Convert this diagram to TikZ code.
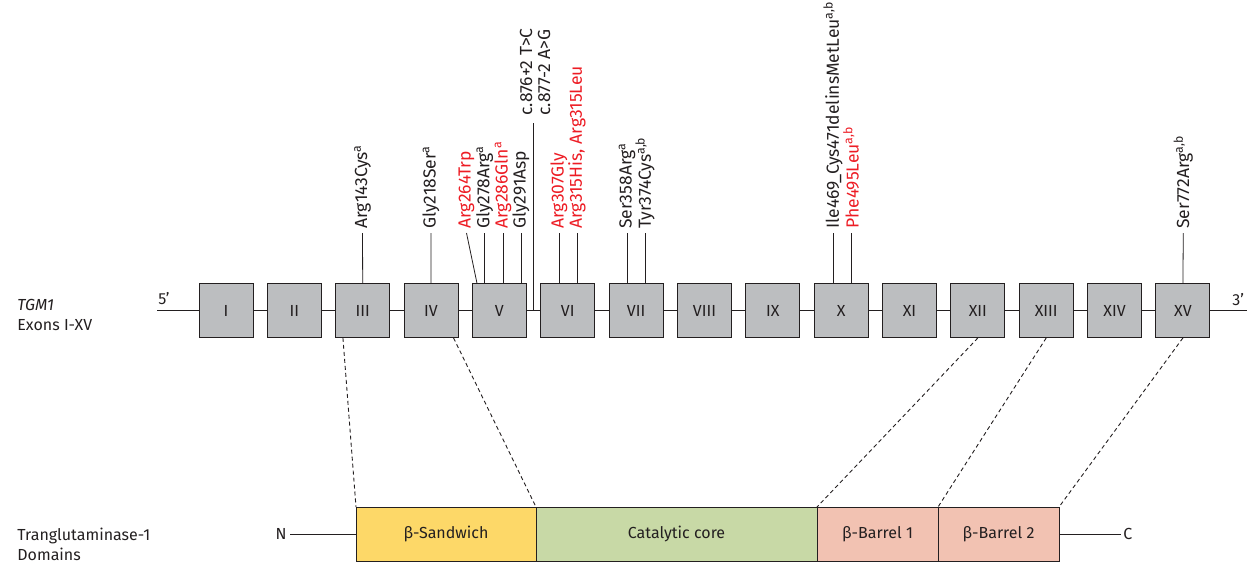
\documentclass[tikz,border=0pt]{standalone}
\usepackage{fontspec}
\setmainfont{Fira Sans}
\usetikzlibrary{calc}
\definecolor{exongray}{RGB}{188,190,192}
\definecolor{inkgray}{RGB}{35,31,32}
\definecolor{mutred}{RGB}{237,28,36}
\definecolor{sandyellow}{RGB}{253,216,104}
\definecolor{coregreen}{RGB}{200,217,166}
\definecolor{barrelpink}{RGB}{242,194,178}
\tikzset{
	exon/.style={draw=inkgray,fill=exongray,minimum size=54pt,inner sep=0pt,line width=0.9pt},
	domainbox/.style={draw=inkgray,minimum height=54pt,inner sep=0pt,outer sep=0pt,line width=0.9pt,anchor=west},
	mut/.style={rotate=90,anchor=west,inner xsep=4pt,inner ysep=0pt,font=\fontsize{17.5}{20}\selectfont},
	link/.style={dash pattern=on 4pt off 3pt,line width=0.9pt},
	lab/.style={anchor=base west,inner sep=0pt}
}
\begin{document}
\begin{tikzpicture}[x=1pt,y=-1pt,line width=0.8pt,inkgray,font=\fontsize{16}{19}\selectfont]
	\useasboundingbox (0,0) rectangle (1251,563);
	% gene and exons
	\coordinate (g5) at (157,310.5);
	\coordinate (g3) at (1247,310.5);
	\draw (g5) -- (g3);
	\foreach \r [count=\i] in {I,II,III,IV,V,VI,VII,VIII,IX,X,XI,XII,XIII,XIV,XV}
		\node[exon] (e\i) at ({226+68.35*(\i-1)},310.5) {\r};
	\node[lab] (p5) at (158,304) {5’};
	\node[lab] (p3) at (1232,305) {3’};
	\node[lab,font=\fontsize{16}{19}\selectfont\itshape] (tgm) at (17,310) {TGM1};
	\node[lab] (exlab) at (17,330) {Exons I-XV};
	% mutations
	\node[mut] (m1) at (362.5,233) {Arg143Cys\textsuperscript{a}};
	\node[mut] (m2) at (431,233) {Gly218Ser\textsuperscript{a}};
	\node[mut,mutred] (m3) at (466.5,233) {Arg264Trp};
	\node[mut] (m4) at (484.7,233) {Gly278Arg\textsuperscript{a}};
	\node[mut,mutred] (m5) at (503,233) {Arg286Gln\textsuperscript{a}};
	\node[mut] (m6) at (521,233) {Gly291Asp};
	\node[mut] (s1) at (526,120) {c.876+2 T>C};
	\node[mut] (s2) at (544,120) {c.877-2 A>G};
	\coordinate (stop) at (533.3,123);
	\node[mut,mutred] (m7) at (559,233) {Arg307Gly};
	\node[mut,mutred] (m8) at (577,233) {Arg315His, Arg315Leu};
	\node[mut] (m9) at (627,233) {Ser358Arg\textsuperscript{a}};
	\node[mut] (m10) at (645,233) {Tyr374Cys\textsuperscript{a,b}};
	\node[mut] (m11) at (833,233) {Ile469\_Cys471delinsMetLeu\textsuperscript{a,b}};
	\node[mut,mutred] (m12) at (851,233) {Phe495Leu\textsuperscript{a,b}};
	\node[mut] (m13) at (1183.3,233) {Ser772Arg\textsuperscript{a,b}};
	\draw (e3.north) -- (m1.west);
	\draw (e4.north) -- (m2.west);
	\draw ($(e5.north west)+(5,0)$) -- (m3.west);
	\foreach \m in {m4,m5,m6} \draw (e5.north -| \m.west) -- (\m.west);
	\draw (stop |- g5) -- (stop);
	\foreach \m in {m7,m8} \draw (e6.north -| \m.west) -- (\m.west);
	\foreach \m in {m9,m10} \draw (e7.north -| \m.west) -- (\m.west);
	\foreach \m in {m11,m12} \draw (e10.north -| \m.west) -- (\m.west);
	\draw (e15.north) -- (m13.west);
	% protein domains
	\node[domainbox,fill=sandyellow,minimum width=180pt] (sand) at (356,534) {β-Sandwich};
	\node[domainbox,fill=coregreen,minimum width=281pt] (core) at (sand.east) {Catalytic core};
	\node[domainbox,fill=barrelpink,minimum width=121pt] (bar1) at (core.east) {β-Barrel 1};
	\node[domainbox,fill=barrelpink,minimum width=121pt] (bar2) at (bar1.east) {β-Barrel 2};
	\node[anchor=east,inner sep=3pt] (nterm) at (290,534) {N};
	\node[anchor=west,inner sep=2pt] (cterm) at (1121,534) {C};
	\draw (nterm.east) -- (sand.west);
	\draw (bar2.east) -- (cterm.west);
	\node[lab] (tglab) at (17,540) {Tranglutaminase-1};
	\node[lab] (domlab) at (17,560) {Domains};
	% exon to domain
	\draw[link] ($(e3.south west)!0.14!(e3.south east)$) -- (sand.north west);
	\draw[link] ($(e4.south west)!0.91!(e4.south east)$) -- (sand.north east);
	\draw[link] (e12.south) -- (core.north east);
	\draw[link] (e13.south) -- (bar1.north east);
	\draw[link] (e15.south) -- (bar2.north east);
\end{tikzpicture}
\end{document}
